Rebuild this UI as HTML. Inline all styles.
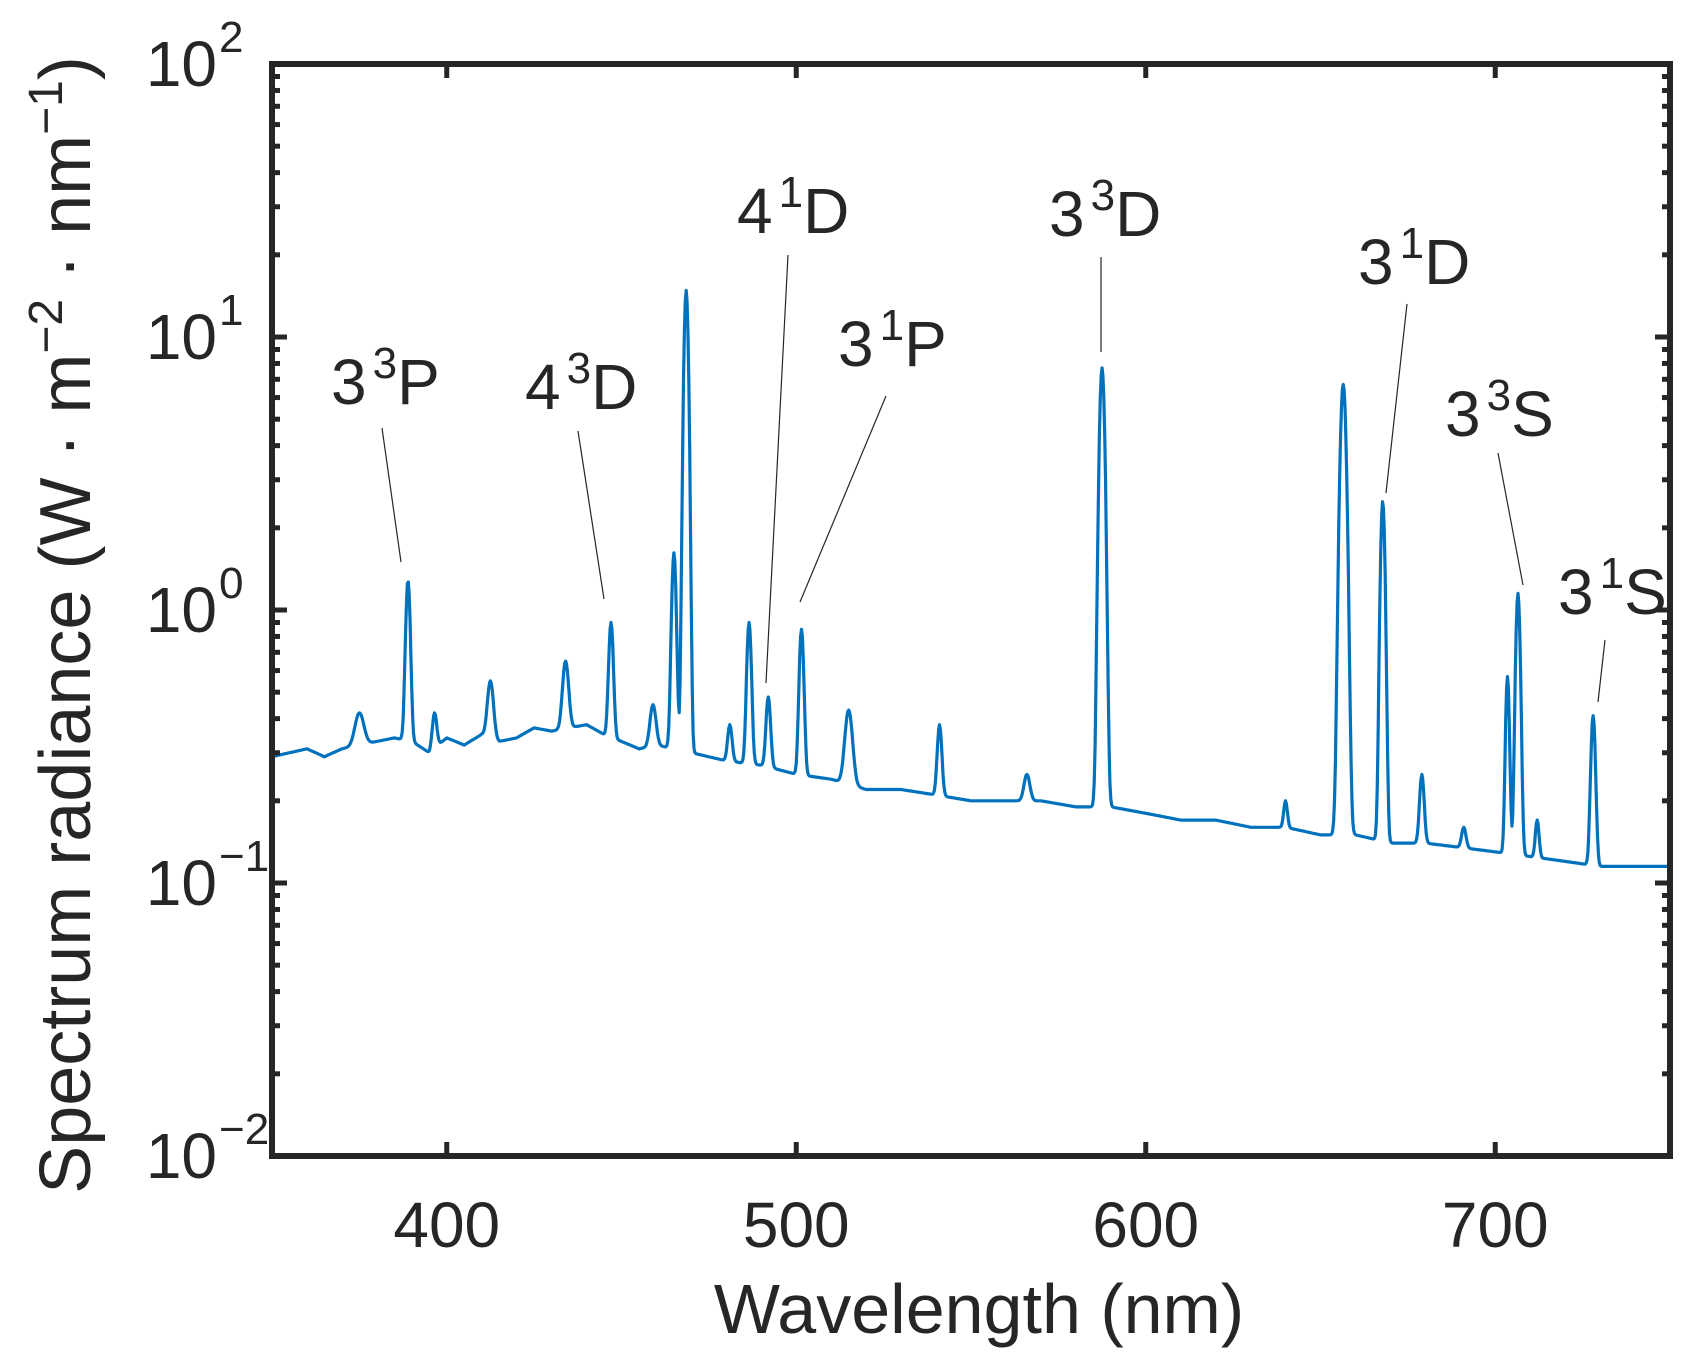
<!DOCTYPE html>
<html><head><meta charset="utf-8"><style>
body{margin:0;background:#fff}
svg{display:block}
text{font-family:"Liberation Sans",Arial,sans-serif;fill:#262626}
</style></head><body>
<svg id="chart" width="1691" height="1357" viewBox="0 0 1691 1357" xmlns="http://www.w3.org/2000/svg">
<g id="grid"></g>
<path id="series" fill="none" stroke="#0072BD" stroke-width="3.2" stroke-linejoin="round"/>
<g id="axes"></g>
<g id="annots"></g>
</svg>
<script>
const baseWl = [350,355,360,365,370,380,385,390,395,400,405,410,415,420,425,430,440,445,450,455,460,470,475,480,490,500,510,520,530,540,550,560,570,580,590,600,610,620,630,640,650,660,670,680,690,700,710,720,730,740,750];
const baseVal = [0.29,0.30,0.31,0.29,0.31,0.33,0.34,0.33,0.30,0.34,0.32,0.35,0.33,0.34,0.37,0.36,0.38,0.35,0.33,0.31,0.32,0.30,0.29,0.28,0.27,0.25,0.24,0.22,0.22,0.21,0.20,0.20,0.20,0.19,0.19,0.18,0.17,0.17,0.16,0.16,0.15,0.15,0.14,0.14,0.135,0.13,0.125,0.12,0.115,0.115,0.115];
const peakWl = [375,388.9,396.5,412.5,434,447,459,465,468.5,481,486.5,492,501.5,515,541,566,587.5,640,656.5,667.8,679,691,703.5,706.5,712,728];
const peakVal = [0.42,1.28,0.42,0.55,0.65,0.9,0.45,1.62,14.8,0.38,0.9,0.48,0.85,0.43,0.38,0.25,7.7,0.2,6.7,2.5,0.25,0.16,0.57,1.15,0.17,0.41];
const peakSigma = [1.2,0.6,0.6,0.8,0.8,0.6,0.8,0.6,0.6,0.6,0.6,0.6,0.6,1.0,0.6,0.8,0.7,0.5,0.8,0.6,0.6,0.6,0.5,0.6,0.5,0.6];
const xTicks = [400,500,600,700];
const yExps = [-2,-1,0,1,2];
const labels = [
 {n:"3",s:"3",L:"P",tx:331,ty:404,x1:382,y1:428,x2:401,y2:562},
 {n:"4",s:"3",L:"D",tx:525,ty:409,x1:578,y1:431,x2:604,y2:599},
 {n:"4",s:"1",L:"D",tx:737,ty:233,x1:788,y1:255,x2:766,y2:683},
 {n:"3",s:"1",L:"P",tx:838,ty:366,x1:886,y1:396,x2:800,y2:602},
 {n:"3",s:"3",L:"D",tx:1049,ty:236,x1:1101,y1:257,x2:1101,y2:352},
 {n:"3",s:"1",L:"D",tx:1358,ty:284,x1:1407,y1:304,x2:1386,y2:493},
 {n:"3",s:"3",L:"S",tx:1445,ty:436,x1:1498,y1:453,x2:1523,y2:585},
 {n:"3",s:"1",L:"S",tx:1558,ty:614,x1:1605,y1:640,x2:1598,y2:702}
];
const L=272,R=1670,T=64,B=1156;
const xS=v=>L+(v-350)/400*(R-L);
const yS=v=>B-(Math.log10(v)+2)/4*(B-T);
const NS="http://www.w3.org/2000/svg";
function mk(tag,attrs,parent){const e=document.createElementNS(NS,tag);for(const k in attrs)e.setAttribute(k,attrs[k]);parent.appendChild(e);return e;}
function base(w){for(let i=0;i<baseWl.length-1;i++){if(w<=baseWl[i+1]){const t=(w-baseWl[i])/(baseWl[i+1]-baseWl[i]);return baseVal[i]+t*(baseVal[i+1]-baseVal[i]);}}return baseVal[baseVal.length-1];}
let d="";
for(let w=350;w<=750.001;w+=0.25){
  const b=base(w);let v=b;
  for(let j=0;j<peakWl.length;j++){const a=peakVal[j]-base(peakWl[j]);v+=a*Math.exp(-0.5*Math.pow((w-peakWl[j])/peakSigma[j],2));}
  d+=(d?"L":"M")+xS(w).toFixed(1)+","+yS(v).toFixed(1);
}
document.getElementById('series').setAttribute('d',d);
const ax=document.getElementById('axes');
for(const t of xTicks){
  const x=xS(t);
  const a=mk('line',{x1:x,y1:B,x2:x,y2:B-14,stroke:'#262626','stroke-width':5},ax);
  
  
  mk('line',{x1:x,y1:T,x2:x,y2:T+14,stroke:'#262626','stroke-width':5},ax);
  const tx=mk('text',{x:x,y:1247,'text-anchor':'middle','font-size':64},ax);
  tx.textContent=t;
  
  
}
for(let e=-2;e<2;e++){for(let m=2;m<=9;m++){const y=yS(m*Math.pow(10,e));
  mk('line',{x1:L,y1:y,x2:L+8,y2:y,stroke:'#262626','stroke-width':5},ax);
  mk('line',{x1:R,y1:y,x2:R-8,y2:y,stroke:'#262626','stroke-width':5},ax);}}
for(const e of yExps){
  const y=yS(Math.pow(10,e));
  mk('line',{x1:L,y1:y,x2:L+15,y2:y,stroke:'#262626','stroke-width':5},ax);
  mk('line',{x1:R,y1:y,x2:R-15,y2:y,stroke:'#262626','stroke-width':5},ax);
  const t=mk('text',{x:217,y:y+22,'text-anchor':'end','font-size':64},ax);
  t.textContent='10';
  
  
  const s=mk('text',{x:219,y:y-12,'text-anchor':'start','font-size':44},ax);
  s.textContent=e<0?'\u2212'+(-e):String(e);
}
const box=mk('rect',{x:L,y:T,width:R-L,height:B-T,fill:'none',stroke:'#262626','stroke-width':6},ax);


const xt=mk('text',{x:979,y:1333,'text-anchor':'middle','font-size':70},ax);
xt.textContent='Wavelength (nm)';


const yt=mk('text',{x:0,y:0,'text-anchor':'middle','font-size':72,transform:'translate(90,625) rotate(-90)'},ax);
yt.innerHTML='Spectrum radiance (W \u00b7 m<tspan dy="-28" font-size="48">\u22122</tspan><tspan dy="28"> \u00b7 nm</tspan><tspan dy="-28" font-size="48">\u22121</tspan><tspan dy="28">)</tspan>';


const an=document.getElementById('annots');
for(const l of labels){
  const ln=mk('line',{x1:l.x1,y1:l.y1,x2:l.x2,y2:l.y2,stroke:'#262626','stroke-width':1.2},an);
  
  
  const t=mk('text',{x:l.tx,y:l.ty,'text-anchor':'start','font-size':64},an);
  t.innerHTML=l.n+'<tspan dx="6" dy="-26" font-size="44">'+l.s+'</tspan><tspan dy="26">'+l.L+'</tspan>';
  
  
}
</script>
</body></html>
